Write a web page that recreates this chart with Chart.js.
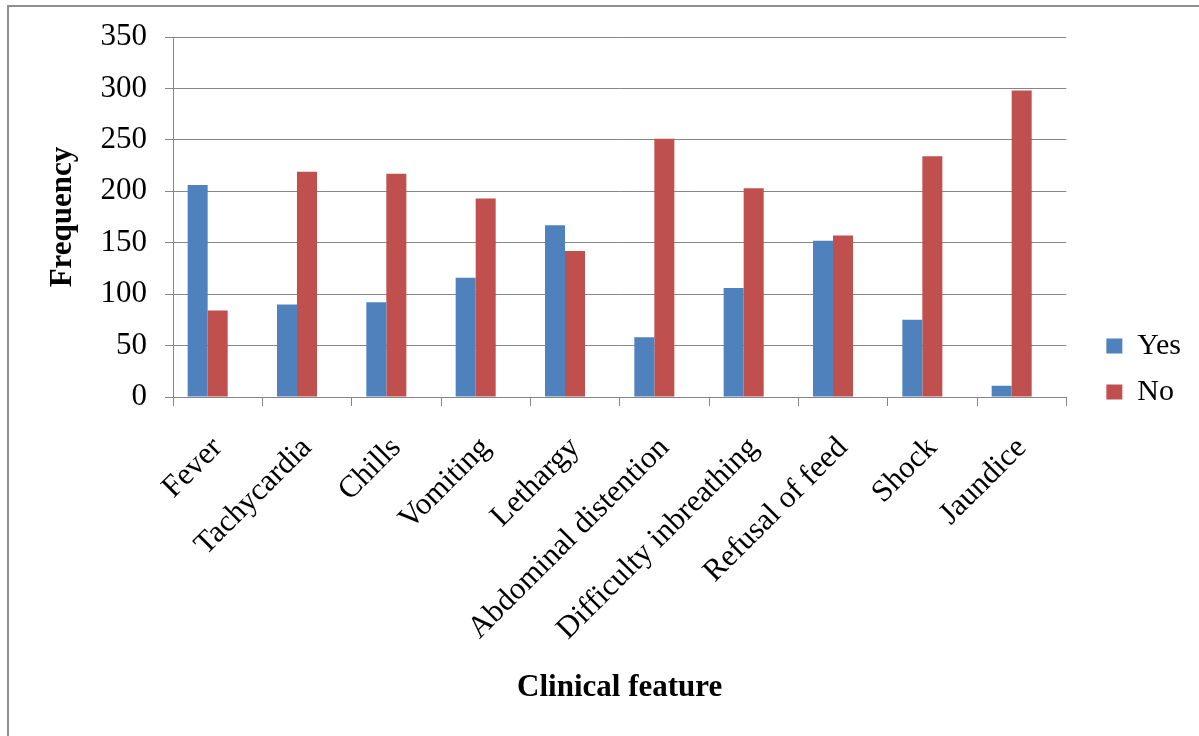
<!DOCTYPE html>
<html>
<head>
<meta charset="utf-8">
<script src="https://cdn.jsdelivr.net/npm/chart.js@4.4.1/dist/chart.umd.min.js"></script>
<style>
  html, body { margin: 0; padding: 0; background: #ffffff; }
  #wrap { position: relative; width: 1199px; height: 736px; overflow: hidden; }
  #frame {
    position: absolute; left: 7px; top: 5px; right: -10px; bottom: -10px;
    border-left: 2px solid #8e8e8e; border-top: 2px solid #8e8e8e;
    pointer-events: none;
  }
  canvas { display: block; }
</style>
</head>
<body>
<div id="wrap">
  <canvas id="chart" width="1199" height="736"></canvas>
  <div id="frame"></div>
</div>
<script>
// Clinical features of the patients: how many had each one (Yes) and how many did not (No)
const categories = [
  'Fever', 'Tachycardia', 'Chills', 'Vomiting', 'Lethargy',
  'Abdominal distention', 'Difficulty inbreathing', 'Refusal of feed', 'Shock', 'Jaundice'
];
const yesCounts = [206, 90, 92, 116, 167, 58, 106, 152, 75, 11];
const noCounts  = [84, 219, 217, 193, 142, 251, 203, 157, 234, 298];
// third series of the workbook is empty; it still reserves a slot in each group
const series3 = [];

const yTicks = [0, 50, 100, 150, 200, 250, 300, 350];

const serif = '"Liberation Serif", "Times New Roman", Times, serif';
const axisGrey = '#868686';

// moves the legend a little to the right of the plot area
const legendOffset = {
  id: 'legendOffset',
  afterLayout(chart) {
    const lg = chart.legend;
    if (!lg) return;
    const dx = 24;
    lg.left += dx;
    lg.right += dx;
  }
};

new Chart(document.getElementById('chart'), {
  type: 'bar',
  data: {
    labels: categories,
    datasets: [
      { label: 'Yes', data: yesCounts, backgroundColor: '#4F81BD', borderWidth: 0 },
      { label: 'No', data: noCounts, backgroundColor: '#C0504D', borderWidth: 0 },
      { label: '', data: series3, backgroundColor: '#9BBB59', borderWidth: 0 }
    ]
  },
  options: {
    responsive: false,
    devicePixelRatio: 1,
    animation: false,
    layout: { padding: { top: 37, right: 32, bottom: 35, left: 0 } },
    datasets: {
      bar: { barPercentage: 1.0, categoryPercentage: 0.672 }
    },
    plugins: {
      tooltip: { enabled: false },
      legend: {
        position: 'right',
        align: 'center',
        labels: {
          font: { family: serif, size: 30 },
          color: '#000000',
          boxWidth: 16,
          boxHeight: 15,
          padding: 16,
          filter: (item) => item.text !== ''
        }
      }
    },
    scales: {
      x: {
        grid: {
          display: true,
          drawOnChartArea: false,
          drawTicks: true,
          tickLength: 9,
          color: axisGrey,
          lineWidth: 1
        },
        border: { display: true, color: axisGrey, width: 1 },
        ticks: {
          autoSkip: false,
          minRotation: 45,
          maxRotation: 45,
          padding: 24,
          color: '#000000',
          font: { family: serif, size: 31 }
        },
        title: {
          display: true,
          text: 'Clinical feature',
          color: '#000000',
          font: { family: serif, size: 31, weight: 'bold', lineHeight: '26px' },
          padding: { top: 0, bottom: 0 }
        },
        afterFit(scale) { scale.height = 304; }
      },
      y: {
        min: 0,
        max: 350,
        afterBuildTicks(scale) { scale.ticks = yTicks.map(v => ({ value: v })); },
        grid: {
          color: axisGrey,
          lineWidth: 1,
          drawTicks: true,
          tickLength: 8
        },
        border: { display: true, color: axisGrey, width: 1 },
        ticks: {
          padding: 18,
          color: '#000000',
          font: { family: serif, size: 31 }
        },
        title: {
          display: true,
          text: 'Frequency',
          color: '#000000',
          font: { family: serif, size: 31, weight: 'bold', lineHeight: 1.2 },
          padding: { top: 44, bottom: 0 }
        },
        afterFit(scale) { scale.width = 173; }
      }
    }
  },
  plugins: [legendOffset]
});
</script>
</body>
</html>
